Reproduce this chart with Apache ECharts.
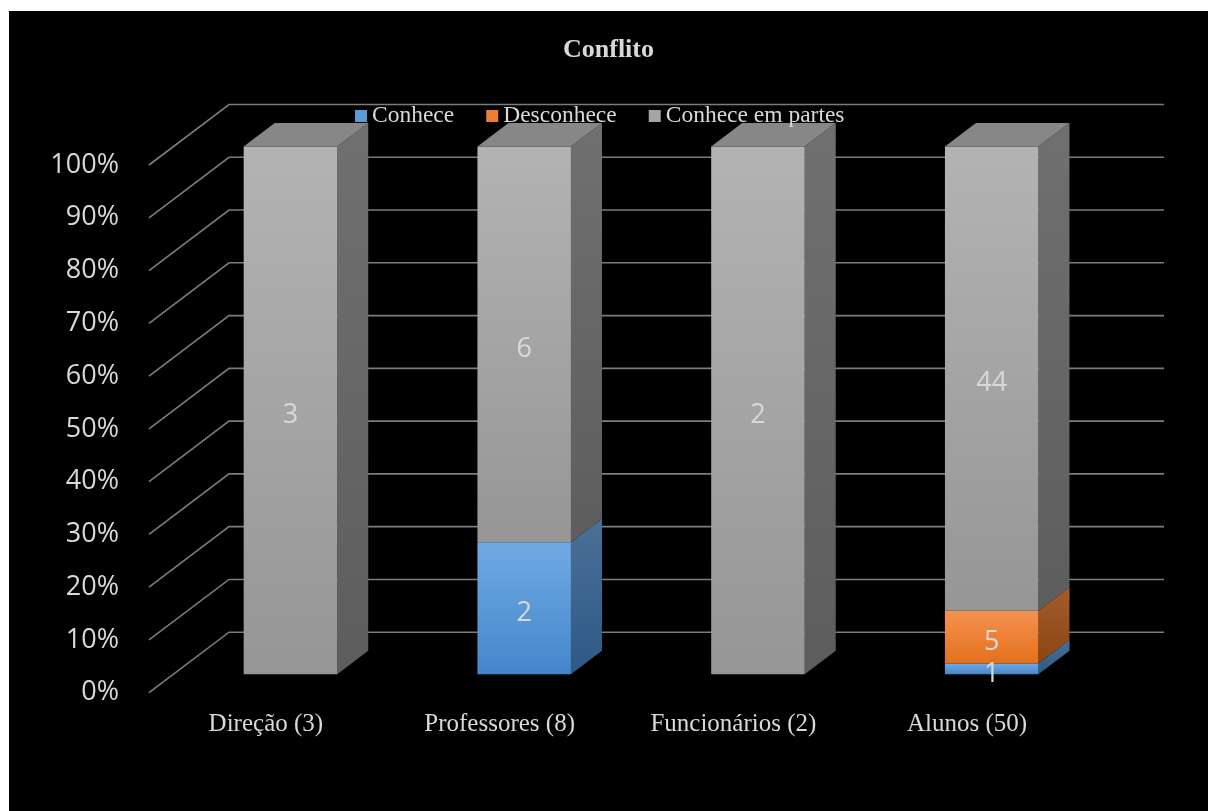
<!DOCTYPE html>
<html>
<head>
<meta charset="utf-8">
<title>Conflito</title>
<script src="https://cdn.jsdelivr.net/npm/echarts@6/dist/echarts.min.js"></script>
<style>
  html, body { margin: 0; padding: 0; background: #ffffff; width: 1208px; height: 811px; overflow: hidden; }
  #chart { position: absolute; left: 9px; top: 11px; width: 1199px; height: 800px; }
</style>
</head>
<body>
<div id="chart"></div>
<script>
// Respondents per group and their answers (counts)
const categories = ['Direção (3)', 'Professores (8)', 'Funcionários (2)', 'Alunos (50)'];
const conhece = [0, 2, 0, 1];
const desconhece = [0, 0, 0, 5];
const conheceEmPartes = [3, 6, 2, 44];
const seriesNames = ['Conhece', 'Desconhece', 'Conhece em partes'];

// Percentage axis ticks and their labels
const percentTicks = [0, 0.1, 0.2, 0.3, 0.4, 0.5, 0.6, 0.7, 0.8, 0.9, 1];
const percentLabels = ['0%', '10%', '20%', '30%', '40%', '50%', '60%', '70%', '80%', '90%', '100%'];

// 3D projection of the floor depth (front edge -> back wall)
const DEPTH_X = 80;
const DEPTH_Y = -60.5;
const BAR_FRONT = 0.307;   // fraction of depth where the bar's front face sits
const BAR_BACK = 0.695;    // fraction of depth where the bar's back face sits
const BAR_WIDTH = 0.4;     // fraction of the category band

const TEXT = '#d9d9d9';

// Face colours per series: front gradient, side gradient, top
const faces = [
  { legend: '#5b9bd5', front: ['#70aae3', '#4586cb'], side: ['#4b7098', '#2d5985'], top: '#5a86b8' },
  { legend: '#ed7d31', front: ['#f5924f', '#e4701c'], side: ['#a45b2c', '#8a4614'], top: '#c46a30' },
  { legend: '#a5a5a5', front: ['#b3b3b3', '#969696'], side: ['#707070', '#5d5d5d'], top: '#878787' }
];

const counts = [conhece, desconhece, conheceEmPartes];
const totals = categories.map((_, i) => counts.reduce((s, arr) => s + arr[i], 0));

// Stacked 100% segments: [categoryIndex, start, end, count]
function segmentsFor(k) {
  return categories.map((_, i) => {
    let start = 0;
    for (let j = 0; j < k; j++) start += counts[j][i] / totals[i];
    const end = start + counts[k][i] / totals[i];
    return [i, start, end, counts[k][i]];
  });
}

function grad(c) {
  return new echarts.graphic.LinearGradient(0, 0, 0, 1, [
    { offset: 0, color: c[0] }, { offset: 1, color: c[1] }
  ]);
}

function barRenderer(k) {
  return function (params, api) {
    const cat = api.value(0), lo = api.value(1), hi = api.value(2);
    if (hi - lo <= 1e-9) return null;
    const p0 = api.coord([cat, lo]);
    const p1 = api.coord([cat, hi]);
    const band = api.size([1, 0])[0];
    const w = band * BAR_WIDTH;
    const fx = BAR_FRONT * DEPTH_X, fy = BAR_FRONT * DEPTH_Y;
    const dx = (BAR_BACK - BAR_FRONT) * DEPTH_X, dy = (BAR_BACK - BAR_FRONT) * DEPTH_Y;
    const L = p0[0] - w / 2 + fx, R = L + w;
    const yB = p0[1] + fy, yT = p1[1] + fy;
    const f = faces[k];
    const children = [
      { type: 'polygon', shape: { points: [[R, yT], [R + dx, yT + dy], [R + dx, yB + dy], [R, yB]] },
        style: { fill: grad(f.side) } },
      { type: 'polygon', shape: { points: [[L, yT], [R, yT], [R, yB], [L, yB]] },
        style: { fill: grad(f.front) } }
    ];
    if (hi >= 1 - 1e-9) {
      children.push({ type: 'polygon', shape: { points: [[L, yT], [R, yT], [R + dx, yT + dy], [L + dx, yT + dy]] },
        style: { fill: f.top } });
    }
    return { type: 'group', children: children };
  };
}

function labelRenderer(params, api) {
  const cat = api.value(0), lo = api.value(1), hi = api.value(2), n = api.value(3);
  if (hi - lo <= 1e-9) return null;
  const p0 = api.coord([cat, lo]);
  const p1 = api.coord([cat, hi]);
  const x = p0[0] + BAR_FRONT * DEPTH_X;
  const y = (p0[1] + p1[1]) / 2 + BAR_FRONT * DEPTH_Y + 5;
  return {
    type: 'text', x: x, y: y,
    style: { text: String(n), fill: TEXT, fontSize: 27, fontFamily: '"Open Sans", sans-serif',
             align: 'center', verticalAlign: 'middle' }
  };
}

function gridRenderer(params, api) {
  const v = api.value(1);
  const band = api.size([1, 0])[0];
  const yv = api.coord([0, v])[1];
  const xL = api.coord([0, v])[0] - band / 2;
  const xR = api.coord([categories.length - 1, v])[0] + band / 2;
  return {
    type: 'polyline',
    shape: { points: [[xL, yv], [xL + DEPTH_X, yv + DEPTH_Y], [xR + DEPTH_X, yv + DEPTH_Y]] },
    style: { stroke: '#7c7c7c', lineWidth: 1.6, fill: null }
  };
}

const chart = echarts.init(document.getElementById('chart'), null, { renderer: 'canvas' });

const series = [{
  type: 'custom', name: 'gridlines', coordinateSystem: 'cartesian2d', clip: false, silent: true, z: 1,
  renderItem: gridRenderer,
  data: percentTicks.map(v => [0, v])
}];
seriesNames.forEach((name, k) => {
  series.push({
    type: 'custom', name: name, coordinateSystem: 'cartesian2d', clip: false, z: 2,
    itemStyle: { color: faces[k].legend },
    encode: { x: 0, y: [1, 2] },
    renderItem: barRenderer(k),
    data: segmentsFor(k)
  });
});
series.push({
  type: 'custom', name: 'values', coordinateSystem: 'cartesian2d', clip: false, silent: true, z: 5,
  encode: { x: 0, y: [1, 2] },
  renderItem: labelRenderer,
  data: [].concat(segmentsFor(0), segmentsFor(1), segmentsFor(2))
});

chart.setOption({
  backgroundColor: '#000000',
  animation: false,
  title: {
    text: 'Conflito',
    left: 'center',
    top: 21,
    textStyle: { color: TEXT, fontFamily: '"Liberation Serif", serif', fontWeight: 'bold', fontSize: 26 }
  },
  legend: {
    data: seriesNames,
    left: 341,
    top: 88,
    icon: 'rect',
    itemWidth: 12,
    itemHeight: 12,
    itemGap: 32,
    textStyle: { color: TEXT, fontFamily: '"Liberation Serif", serif', fontSize: 23.5 }
  },
  grid: { left: 140, right: 124, top: 154, bottom: 118.3, containLabel: false },
  xAxis: {
    type: 'category',
    data: categories,
    axisLine: { show: false },
    axisTick: { show: false },
    splitLine: { show: false },
    axisLabel: { color: TEXT, fontFamily: '"Liberation Serif", serif', fontSize: 25, margin: 19, interval: 0 }
  },
  yAxis: {
    type: 'value',
    min: 0, max: 1, interval: 0.1,
    axisLine: { show: false },
    axisTick: { show: false },
    splitLine: { show: false },
    axisLabel: {
      color: TEXT, fontFamily: '"Open Sans", sans-serif', fontSize: 27, margin: 30,
      padding: [6, 0, 0, 0],
      formatter: v => percentLabels[Math.round(v * 10)]
    }
  },
  series: series
});
</script>
</body>
</html>
